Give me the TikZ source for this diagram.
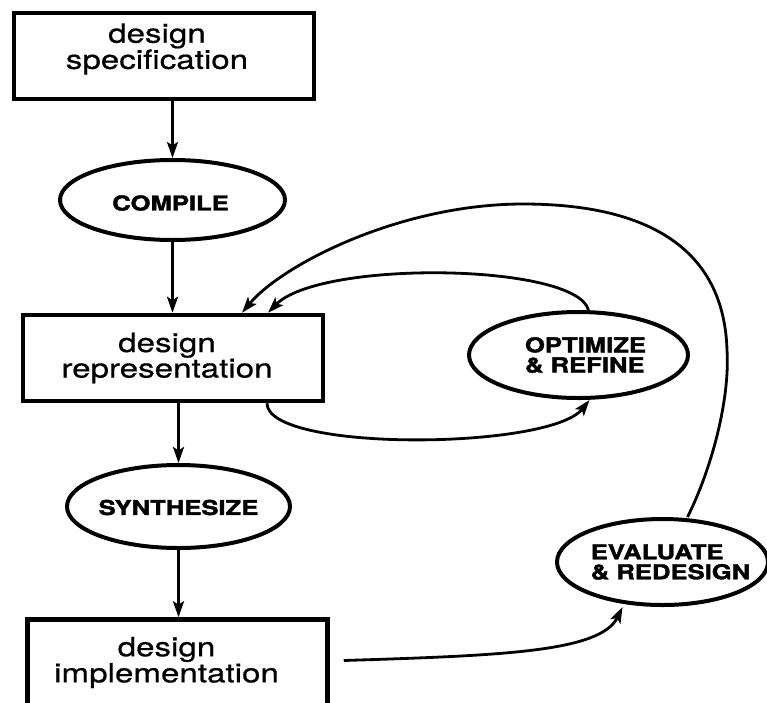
\documentclass[tikz,border=0pt]{standalone}
\usepackage{fontspec}
\setmainfont{TeX Gyre Heros}
\newfontfamily\boxfont[FakeStretch=1.25,FakeBold=0.6]{TeX Gyre Heros}
\newfontfamily\ovalfont[FakeStretch=1.25,FakeBold=1.8]{TeX Gyre Heros}
\usetikzlibrary{shapes.geometric,arrows.meta}

\begin{document}
\begin{tikzpicture}[x=1pt,y=-1pt,
  stage/.style={draw,line width=4.5pt,rectangle,minimum width=300pt,
    minimum height=86pt,inner sep=0pt},
  stagetext/.style={align=center,inner sep=0pt,
    font=\boxfont\fontsize{26.5}{24.5}\selectfont},
  oval/.style={draw,line width=4pt,ellipse,inner sep=0pt},
  ovaltext/.style={align=left,inner sep=0pt,
    font=\ovalfont\bfseries\fontsize{20.5}{20}\selectfont},
  link/.style={line width=2.8pt,-{Stealth[length=16pt,width=11pt,inset=3.5pt]}}]
  \useasboundingbox (0,0) rectangle (767,702);
  \clip (0,0) rectangle (767,702);

  % main flow
  \node[stage,label={[stagetext,xshift=-7pt,yshift=7pt]center:{design\\specification}}]
    (spec) at (164,56) {};
  \node[oval,minimum width=225pt,minimum height=80pt,
    label={[ovaltext,xshift=-2pt,yshift=-3pt]center:COMPILE}] (compile) at (172.5,200) {};
  \node[stage,label={[stagetext,xshift=-6pt]center:{design\\representation}}]
    (rep) at (173,358) {};
  \node[oval,minimum width=223pt,minimum height=83pt,
    label={[ovaltext,yshift=-1pt]center:SYNTHESIZE}] (synth) at (178.5,506.5) {};
  \node[stage,label={[stagetext,xshift=-11pt]center:{design\\implementation}}]
    (impl) at (177.5,662.5) {};

  % side loops
  \node[oval,minimum width=219pt,minimum height=86pt,
    label={[ovaltext,xshift=7pt]center:{OPTIMIZE\\\& REFINE}}] (opt) at (578.5,355) {};
  \node[oval,minimum width=211pt,minimum height=86pt,
    label={[ovaltext,xshift=8pt]center:{EVALUATE\\\& REDESIGN}}] (eval) at (662.5,562) {};

  \coordinate (bigturn) at (727,350);
  \coordinate (bigtop) at (523,204);

  \draw[link] (spec.south -| compile) -- (compile);
  \draw[link] (compile) -- (compile |- rep.north);
  \draw[link] (rep.south -| synth) -- (synth);
  \draw[link] (synth) -- (synth |- impl.north);

  \draw[link] ([xshift=94pt]rep.south) .. controls +(0,49) and +(-40,50) .. ([xshift=11pt]opt.south);
  \draw[link] ([xshift=10pt]opt.north) .. controls +(-13,-47) and +(52,-53) .. ([xshift=95pt]rep.north);
  \draw[link] ([xshift=25pt]eval.north) .. controls +(24,-48) and +(3,50) .. (bigturn)
    .. controls +(-3,-100) and +(127,0) .. (bigtop)
    .. controls +(-123,0) and +(40,-48) .. ([xshift=69pt]rep.north);
  \draw[link] ([xshift=14pt,yshift=2pt]impl.east) .. controls +(158,-5) and +(-22,45) .. ([xshift=-40pt]eval.south);
\end{tikzpicture}
\end{document}
